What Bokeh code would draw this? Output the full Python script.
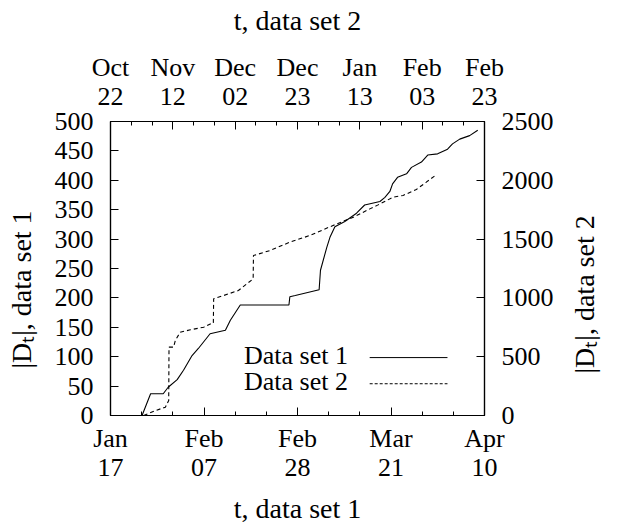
import math
from bokeh.plotting import figure
from bokeh.models import Range1d, LinearAxis, FixedTicker, Label
from bokeh.embed import file_html
from bokeh.resources import INLINE

FONT = "Liberation Serif"
FS = "26px"
FS_TITLE = "28px"

# ---- data set 1: days since Jan 17 (bottom axis), |D_t| (left axis)
ds1_days = [7.0, 8.9, 11.7, 12.8, 14.8, 16.2, 18.1, 19.5, 22.1, 25.5, 26.6, 28.8,
            39.6, 39.8, 41.0, 46.3, 46.6, 48.0, 48.7, 49.8, 52.0, 54.6, 56.4, 59.8,
            60.9, 62.0, 62.6, 63.7, 65.7, 66.8, 69.0, 70.4, 72.6, 74.8, 75.9, 77.5,
            79.7, 81.5]
ds1_vals = [0, 37, 37, 48, 61, 77, 102, 114, 139, 145, 162, 188,
            188, 202, 204, 214, 247, 286, 303, 321, 330, 344, 358, 364,
            371, 381, 394, 405, 411, 422, 431, 443, 445, 453, 462, 470,
            476, 485]

# ---- data set 2: days since Oct 22 (top axis), |D_t| (right axis)
ds2_days = [11.0, 14.9, 18.2, 19.3, 19.4, 20.9, 21.5, 23.1, 26.5, 30.9, 33.6, 34.1,
            34.2, 37.5, 42.4, 47.3, 47.4, 52.9, 59.5, 66.1, 73.8, 80.5, 86.0, 88.7,
            93.7, 97.0, 101.4, 104.7, 108.0]
ds2_vals = [0, 42, 71, 128, 581, 581, 638, 708, 729, 751, 785, 785,
            992, 1020, 1063, 1162, 1360, 1403, 1474, 1531, 1616, 1686, 1757, 1791,
            1856, 1871, 1922, 1984, 2047]

# ---- axes
x1_max = 83
x1_ticks = [0, 20.75, 41.5, 62.25, 83]
x1_labels = ["Jan\n17", "Feb\n07", "Feb\n28", "Mar\n21", "Apr\n10"]
x2_max = 124
x2_ticks = [0, 20.6667, 41.3333, 62.0, 82.6667, 103.3333, 124]
x2_labels = ["Oct\n22", "Nov\n12", "Dec\n02", "Dec\n23", "Jan\n13", "Feb\n03", "Feb\n23"]
y1_max = 500
y1_ticks = [0, 50, 100, 150, 200, 250, 300, 350, 400, 450, 500]
y2_max = 2500
y2_ticks = [0, 500, 1000, 1500, 2000, 2500]

legend_labels = ["Data set 1", "Data set 2"]


def thirds(ticks):
    out = []
    for a, b in zip(ticks[:-1], ticks[1:]):
        out += [a + (b - a) / 3, a + 2 * (b - a) / 3]
    return out


p = figure(width=618, height=527, output_backend="svg", toolbar_location=None,
           x_range=Range1d(0, x1_max), y_range=Range1d(0, y1_max),
           x_axis_location=None, y_axis_location=None,
           min_border_left=110, min_border_right=133,
           min_border_top=121, min_border_bottom=112)
p.extra_x_ranges = {"x2": Range1d(0, x2_max)}
p.extra_y_ranges = {"y2": Range1d(0, y2_max)}
p.grid.visible = False
p.outline_line_color = "black"
p.outline_line_width = 1.2
p.outline_line_alpha = 1.0
p.background_fill_color = "white"
p.border_fill_color = "white"


def style(ax, label, standoff, lab_standoff):
    ax.axis_label = label
    ax.axis_line_color = "black"
    ax.axis_line_width = 1.2
    ax.major_tick_in = 8
    ax.major_tick_out = 0
    ax.minor_tick_in = 4
    ax.minor_tick_out = 0
    ax.major_tick_line_color = "black"
    ax.minor_tick_line_color = "black"
    ax.major_label_text_font = FONT
    ax.major_label_text_font_size = FS
    ax.major_label_text_color = "black"
    ax.major_label_text_line_height = 1.0
    ax.major_label_standoff = standoff
    ax.axis_label_text_font = FONT
    ax.axis_label_text_font_size = FS_TITLE
    ax.axis_label_text_font_style = "normal"
    ax.axis_label_text_color = "black"
    ax.axis_label_standoff = lab_standoff


bottom = LinearAxis(ticker=FixedTicker(ticks=x1_ticks, minor_ticks=thirds(x1_ticks)),
                    major_label_overrides=dict(zip(x1_ticks, x1_labels)))
style(bottom, "t, data set 1", 8, 8)
top = LinearAxis(x_range_name="x2",
                 ticker=FixedTicker(ticks=x2_ticks, minor_ticks=thirds(x2_ticks)),
                 major_label_overrides=dict(zip(x2_ticks, x2_labels)))
style(top, "t, data set 2", 11, 14)
left = LinearAxis(ticker=FixedTicker(ticks=y1_ticks))
# trailing em/en spaces shift the centred title slightly downwards, as in the original
style(left, "|Dₜ|, data set 1\u2003\u2002", 17, 15)
right = LinearAxis(y_range_name="y2", ticker=FixedTicker(ticks=y2_ticks))
# read bottom-to-top like the left title; leading em/en spaces lift it off the corner
style(right, "\u2003\u2002|Dₜ|, data set 2", 17, 28)
right.axis_label_orientation = math.pi / 2
right.axis_label_align = "start"

p.add_layout(bottom, "below")
p.add_layout(top, "above")
p.add_layout(left, "left")
p.add_layout(right, "right")

p.line(ds1_days, ds1_vals, line_color="black", line_width=1.1)
p.line(ds2_days, ds2_vals, x_range_name="x2", y_range_name="y2",
       line_color="black", line_width=1.1, line_dash="4 3")

# ---- legend (text left, sample line right), placed by fractions of the frame
for i, (lab, dash) in enumerate(zip(legend_labels, ["solid", "3 2"])):
    fy = 0.204 - i * 0.089
    p.add_layout(Label(x=0.635 * x1_max, y=fy * y1_max, text=lab,
                       text_align="right", text_baseline="middle",
                       text_font=FONT, text_font_size=FS, text_color="black"))
    p.line([0.693 * x1_max, 0.901 * x1_max], [(fy - 0.007) * y1_max] * 2,
           line_color="black", line_width=1.0, line_dash=dash)

open("out.html", "w").write(file_html(p, INLINE))
